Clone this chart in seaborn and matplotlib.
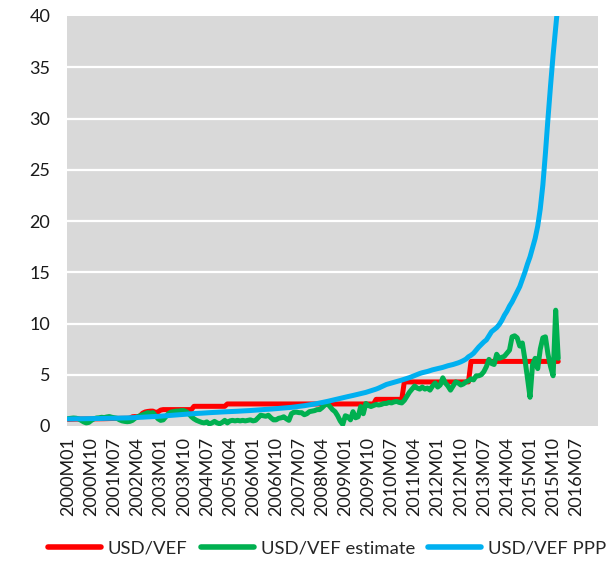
import numpy as np
import pandas as pd
import matplotlib
matplotlib.use("Agg")
import matplotlib.pyplot as plt
import seaborn as sns

# ---- categories: monthly labels 2000M01 .. 2017M03 (axis), data through 2015M12
months = [f"{y}M{m:02d}" for y in range(2000, 2018) for m in range(1, 13)][:207]

usd_vef = [
    0.65, 0.66, 0.67, 0.67, 0.68, 0.68, 0.69, 0.69, 0.69, 0.69, 0.70, 0.70,
    0.70, 0.71, 0.71, 0.72, 0.72, 0.73, 0.74, 0.74, 0.74, 0.74, 0.74, 0.75,
    0.76, 0.90, 0.92, 0.88, 1.00, 1.25, 1.37, 1.42, 1.45, 1.45, 1.32, 1.38,
    1.55, 1.60, 1.60, 1.60, 1.60, 1.60, 1.60, 1.60, 1.60, 1.60, 1.60, 1.60,
    1.60, 1.92, 1.92, 1.92, 1.92, 1.92, 1.92, 1.92, 1.92, 1.92, 1.92, 1.92,
    1.92, 1.92, 2.15, 2.15, 2.15, 2.15, 2.15, 2.15, 2.15, 2.15, 2.15, 2.15,
    2.15, 2.15, 2.15, 2.15, 2.15, 2.15, 2.15, 2.15, 2.15, 2.15, 2.15, 2.15,
    2.15, 2.15, 2.15, 2.15, 2.15, 2.15, 2.15, 2.15, 2.15, 2.15, 2.15, 2.15,
    2.15, 2.15, 2.15, 2.15, 2.15, 2.15, 2.15, 2.15, 2.15, 2.15, 2.15, 2.15,
    2.15, 2.15, 2.15, 2.15, 2.15, 2.15, 2.15, 2.15, 2.15, 2.15, 2.15, 2.15,
    2.60, 2.60, 2.60, 2.60, 2.60, 2.60, 2.60, 2.60, 2.60, 2.60, 2.60, 4.30,
    4.30, 4.30, 4.30, 4.30, 4.30, 4.30, 4.30, 4.30, 4.30, 4.30, 4.30, 4.30,
    4.30, 4.30, 4.30, 4.30, 4.30, 4.30, 4.30, 4.30, 4.30, 4.30, 4.30, 4.30,
    4.30, 6.30, 6.30, 6.30, 6.30, 6.30, 6.30, 6.30, 6.30, 6.30, 6.30, 6.30,
    6.30, 6.30, 6.30, 6.30, 6.30, 6.30, 6.30, 6.30, 6.30, 6.30, 6.30, 6.30,
    6.30, 6.30, 6.30, 6.30, 6.30, 6.30, 6.30, 6.30, 6.30, 6.30, 6.30, 6.30,
]

usd_vef_estimate = [
    0.72, 0.75, 0.78, 0.76, 0.70, 0.55, 0.40, 0.30, 0.35, 0.55, 0.70, 0.78,
    0.80, 0.85, 0.82, 0.88, 0.92, 0.85, 0.80, 0.75, 0.60, 0.50, 0.45, 0.42,
    0.45, 0.55, 0.75, 0.90, 1.00, 1.10, 1.20, 1.30, 1.25, 1.30, 1.00, 0.70,
    0.55, 0.60, 0.90, 1.20, 1.35, 1.40, 1.45, 1.45, 1.50, 1.50, 1.40, 1.20,
    0.90, 0.70, 0.55, 0.45, 0.35, 0.30, 0.40, 0.20, 0.30, 0.45, 0.30, 0.22,
    0.35, 0.55, 0.30, 0.50, 0.55, 0.50, 0.55, 0.50, 0.55, 0.50, 0.55, 0.60,
    0.50, 0.55, 0.80, 1.05, 1.00, 0.95, 1.05, 0.80, 0.60, 0.60, 0.75, 0.80,
    0.90, 0.70, 0.55, 1.20, 1.35, 1.35, 1.30, 1.30, 1.10, 1.20, 1.40, 1.45,
    1.50, 1.60, 1.60, 1.80, 2.05, 2.20, 1.90, 1.60, 1.40, 1.00, 0.50, 0.15,
    1.00, 0.90, 0.60, 1.40, 0.80, 0.90, 1.90, 1.20, 2.20, 2.00, 1.90, 2.00,
    2.10, 2.05, 2.10, 2.20, 2.20, 2.30, 2.25, 2.35, 2.40, 2.30, 2.25, 2.50,
    2.90, 3.30, 3.60, 3.90, 3.70, 3.60, 3.80, 3.60, 3.70, 3.50, 3.90, 4.20,
    3.80, 4.00, 4.70, 4.20, 3.90, 3.50, 3.90, 4.30, 4.20, 4.00, 4.10, 4.30,
    4.40, 4.60, 4.50, 4.90, 4.90, 5.00, 5.30, 5.80, 6.50, 6.10, 6.00, 7.00,
    6.60, 6.70, 6.80, 7.10, 7.40, 8.70, 8.80, 8.60, 7.80, 8.10, 6.50, 4.70,
    2.80, 6.00, 6.60, 5.60, 7.50, 8.60, 8.70, 7.00, 5.80, 4.90, 11.30, 6.60,
]

usd_vef_ppp = [
    0.68, 0.69, 0.69, 0.70, 0.70, 0.71, 0.71, 0.72, 0.72, 0.72, 0.73, 0.73,
    0.73, 0.74, 0.74, 0.75, 0.75, 0.76, 0.76, 0.77, 0.77, 0.78, 0.78, 0.79,
    0.80, 0.81, 0.82, 0.84, 0.85, 0.86, 0.88, 0.89, 0.90, 0.92, 0.93, 0.94,
    0.96, 0.98, 1.00, 1.02, 1.04, 1.06, 1.08, 1.10, 1.12, 1.13, 1.15, 1.17,
    1.19, 1.21, 1.22, 1.24, 1.25, 1.27, 1.28, 1.30, 1.31, 1.33, 1.34, 1.36,
    1.37, 1.38, 1.40, 1.41, 1.42, 1.43, 1.44, 1.46, 1.47, 1.48, 1.50, 1.51,
    1.53, 1.55, 1.56, 1.58, 1.60, 1.62, 1.63, 1.65, 1.67, 1.69, 1.71, 1.73,
    1.75, 1.77, 1.79, 1.82, 1.85, 1.88, 1.91, 1.95, 1.98, 2.02, 2.06, 2.10,
    2.14, 2.19, 2.24, 2.29, 2.34, 2.40, 2.46, 2.52, 2.58, 2.64, 2.70, 2.76,
    2.82, 2.87, 2.92, 2.98, 3.04, 3.10, 3.16, 3.22, 3.28, 3.36, 3.44, 3.52,
    3.60, 3.70, 3.82, 3.95, 4.05, 4.12, 4.18, 4.25, 4.32, 4.40, 4.48, 4.56,
    4.64, 4.72, 4.82, 4.92, 5.02, 5.12, 5.20, 5.26, 5.32, 5.40, 5.48, 5.54,
    5.60, 5.66, 5.72, 5.80, 5.88, 5.94, 6.00, 6.08, 6.16, 6.26, 6.38, 6.52,
    6.75, 6.90, 7.10, 7.40, 7.70, 7.95, 8.20, 8.40, 8.80, 9.20, 9.40, 9.60,
    9.90, 10.30, 10.80, 11.20, 11.70, 12.10, 12.60, 13.10, 13.60, 14.30, 15.00, 15.80,
    16.50, 17.40, 18.30, 19.50, 21.20, 23.50, 26.60, 30.00, 33.20, 36.20, 38.80, 41.50,
]

series_names = ["USD/VEF", "USD/VEF estimate", "USD/VEF PPP"]
colors = ["#FF0000", "#00B050", "#00B0F0"]

frames = []
for name, vals in zip(series_names, [usd_vef, usd_vef_estimate, usd_vef_ppp]):
    frames.append(pd.DataFrame({"idx": np.arange(len(vals)), "value": vals, "series": name}))
df = pd.concat(frames, ignore_index=True)

sns.set_theme(style="white")
plt.rcParams["font.family"] = ["Lato", "DejaVu Sans"]

fig = plt.figure(figsize=(6.07, 5.61), dpi=100)
ax = fig.add_axes([67 / 607, 1 - 426 / 561, (598 - 67) / 607, (426 - 16) / 561])
ax.set_facecolor("#D9D9D9")

sns.lineplot(data=df, x="idx", y="value", hue="series", hue_order=series_names,
             palette=colors, linewidth=3.6, ax=ax, legend=True,
             solid_capstyle="round", solid_joinstyle="round")

ax.set_xlim(-0.5, len(months) - 0.5)
ax.set_ylim(0, 40)
ax.set_yticks(range(0, 41, 5))
ax.set_yticklabels([str(v) for v in range(0, 41, 5)], fontsize=13, color="#1a1a1a")
tick_pos = list(range(0, len(months), 9))
ax.set_xticks(tick_pos)
ax.set_xticklabels([months[i] for i in tick_pos], rotation=90, fontsize=13, color="#1a1a1a")
ax.tick_params(axis="both", length=0)
ax.tick_params(axis="y", pad=12)
ax.tick_params(axis="x", pad=8)
ax.set_xlabel("")
ax.set_ylabel("")
ax.grid(False)
for y in range(5, 40, 5):
    ax.axhline(y, color="white", linewidth=1.6, zorder=0.5)
for s in ax.spines.values():
    s.set_visible(False)

handles, labels = ax.get_legend_handles_labels()
for h in handles:
    h.set_linewidth(4.0)
ax.legend(handles, labels, loc="center", bbox_to_anchor=(327 / 607, 1 - 548 / 561),
          bbox_transform=fig.transFigure, ncol=3, frameon=False, fontsize=13.3,
          handlelength=2.9, handletextpad=0.35, columnspacing=0.7, borderpad=0.2)

fig.savefig("out.png", dpi=100)
